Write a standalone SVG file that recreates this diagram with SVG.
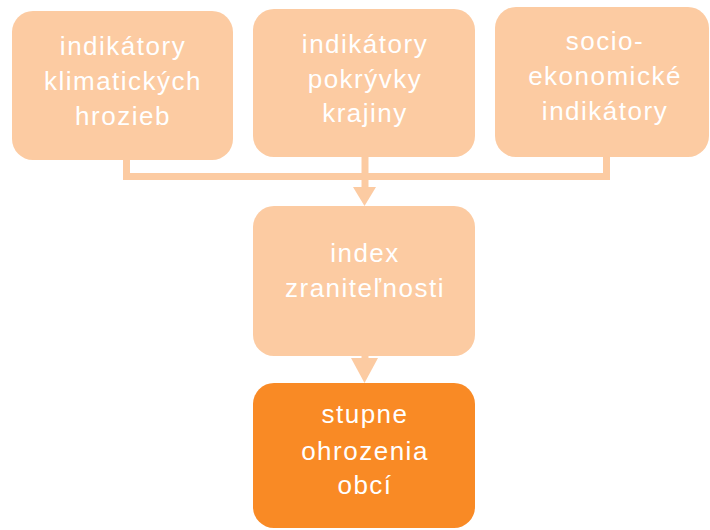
<svg xmlns="http://www.w3.org/2000/svg" width="710" height="530" viewBox="0 0 710 530">
<style>
.light{fill:#FCCBA2}
.dark{fill:#F98A25}
.t{font-family:"Liberation Sans",Arial,sans-serif;font-size:26px;fill:#FFFFFF;text-anchor:middle;letter-spacing:1.5px}
.ln{stroke:#FCCBA2;stroke-width:7;fill:none}
.ah{fill:#FCCBA2}
</style>
<rect width="710" height="530" fill="#FFFFFF"/>
<g id="connectors">
<path class="ln" d="M126.5,160 V176.5 H606.5 V157"/>
<path class="ln" d="M365,157 V188"/>
<polygon class="ah" points="353,187 376,187 364.5,206"/>
<path class="ln" d="M365,356 V359"/>
<polygon class="ah" points="351,358 378,358 364.5,383"/>
</g>
<g id="n1">
<rect class="light" x="12" y="11" width="221" height="149" rx="21"/>
<text class="t" x="123" y="55">indikátory</text>
<text class="t" x="123" y="90">klimatických</text>
<text class="t" x="123" y="125">hrozieb</text>
</g>
<g id="n2">
<rect class="light" x="253" y="9" width="222" height="148" rx="21"/>
<text class="t" x="365" y="53">indikátory</text>
<text class="t" x="365" y="88">pokrývky</text>
<text class="t" x="365" y="122">krajiny</text>
</g>
<g id="n3">
<rect class="light" x="495" y="7" width="214" height="150" rx="21"/>
<text class="t" x="605" y="50">socio-</text>
<text class="t" x="605" y="85">ekonomické</text>
<text class="t" x="605" y="120">indikátory</text>
</g>
<g id="n4">
<rect class="light" x="253" y="206" width="222" height="150" rx="21"/>
<text class="t" x="365" y="262">index</text>
<text class="t" x="365" y="297">zraniteľnosti</text>
</g>
<g id="n5">
<rect class="dark" x="253" y="383" width="222" height="145" rx="21"/>
<text class="t" x="365" y="423">stupne</text>
<text class="t" x="365" y="460">ohrozenia</text>
<text class="t" x="365" y="494">obcí</text>
</g>
</svg>
